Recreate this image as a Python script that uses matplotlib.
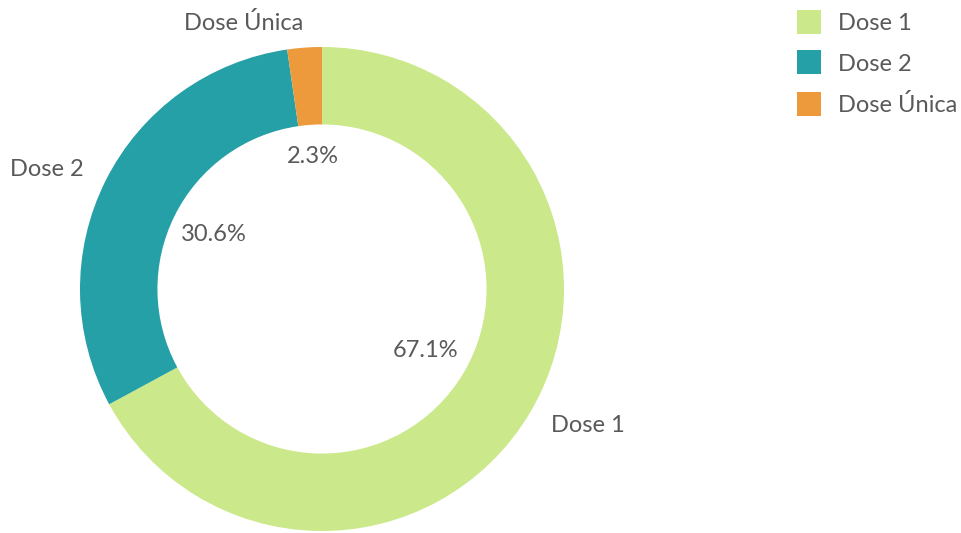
import matplotlib
matplotlib.use('Agg')
import matplotlib.pyplot as plt
from matplotlib.lines import Line2D

labels = ['Dose 1', 'Dose 2', 'Dose Única']
values = [67.1, 30.6, 2.3]
colors = ['#cbe88a', '#24a0a6', '#ed9a3c']
text_color = '#595959'

plt.rcParams['font.family'] = ['Lato', 'DejaVu Sans']

fig = plt.figure(figsize=(9.61, 5.33), dpi=100)
ax = fig.add_axes([80 / 961, 2 / 533, 484 / 961, 484 / 533])

wedges, texts, autotexts = ax.pie(
    values, labels=labels, colors=colors, startangle=90, counterclock=False,
    autopct='%.1f%%', pctdistance=0.5, labeldistance=1.1,
    wedgeprops=dict(width=0.32, linewidth=0),
    textprops=dict(color=text_color, fontsize=17))
for t in texts + autotexts:
    t.set_clip_on(False)

# small slice label sits a bit further out in the reference
x, y = autotexts[2].get_position()
autotexts[2].set_position((x * 1.1, y * 1.1))

ax.set_xlim(-1, 1)
ax.set_ylim(-1, 1)
ax.set_aspect('equal')
ax.axis('off')

handles = [Line2D([], [], marker='s', linestyle='', markersize=17,
                  markerfacecolor=c, markeredgewidth=0) for c in colors]
fig.legend(handles, labels, loc='upper left', bbox_to_anchor=(776 / 961, 1 + 8 / 533),
           frameon=False, fontsize=17, labelcolor=text_color,
           labelspacing=0.82, handletextpad=0.68, handlelength=1.03)

fig.savefig('out.png', dpi=100)
